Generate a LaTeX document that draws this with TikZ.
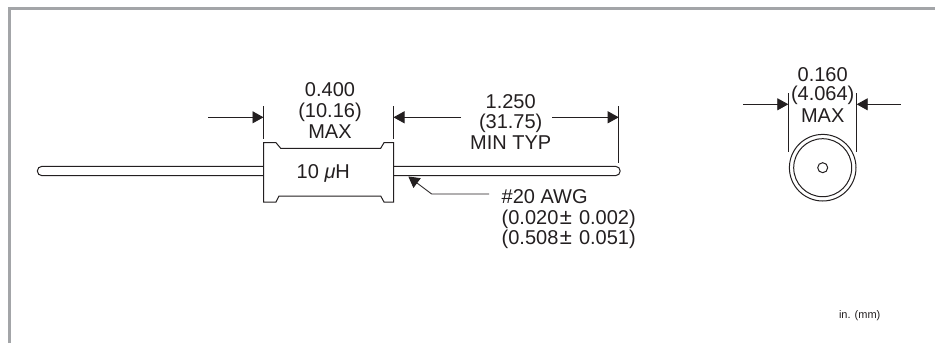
\documentclass[tikz,border=0pt]{standalone}
\usepackage{fontspec}
\setmainfont{Liberation Sans}
\usetikzlibrary{arrows.meta}
\definecolor{ink}{HTML}{231F20}
\definecolor{frame}{HTML}{A3A5A8}
\tikzset{
  line/.style={draw=ink,line width=1pt},
  thin ext/.style={draw=ink,line width=0.85pt},
  dim/.style={draw=ink,line width=0.85pt,-{Triangle[length=11pt,width=12pt]}},
  lbl/.style={anchor=base,inner sep=0pt,outer sep=0pt,text=ink,font=\fontsize{20}{20}\selectfont},
  lblw/.style={lbl,anchor=base west},
}
\newcommand{\plusminus}{\hspace{1.5pt}\smash{\fontsize{22}{20}\selectfont ±}\hspace{1.5pt}}
\begin{document}
\begin{tikzpicture}[x=1pt,y=-1pt]
\useasboundingbox (0,0) rectangle (935,343);
\fill[white] (0,0) rectangle (935,343);
% frame
\draw[frame,line width=3pt] (9.5,343) -- (9.5,8.5) -- (935,8.5);
% leads
\draw[line] (263.5,166.3) -- (42,166.3) arc[start angle=270,end angle=90,radius=4.7] -- (263.5,175.7);
\draw[line] (393.5,166.3) -- (615.5,166.3) arc[start angle=-90,end angle=90,radius=4.7] -- (393.5,175.7);
% body
\draw[line] (263.5,142.7) -- (276,142.7) -- (280.7,148.3) -- (380.7,148.3) -- (384,142.7) -- (393.5,142.7)
  -- (393.5,202) -- (384,202) -- (380.7,196) -- (279,196) -- (276,202) -- (263.5,202) -- cycle;
% extension lines
\draw[thin ext] (263.5,106) -- (263.5,139);
\draw[thin ext] (393.5,106) -- (393.5,139);
\draw[thin ext] (618.7,106) -- (618.7,162.7);
\draw[thin ext] (788.3,93) -- (788.3,151.7);
\draw[thin ext] (856.7,93) -- (856.7,151.7);
% end view
\coordinate (c) at (822.7,167.7);
\draw[line] (c) circle[radius=33.3];
\draw[line] (c) circle[radius=29];
\draw[line] (c) circle[radius=5];
% dimension coordinates
\coordinate (a1) at (208,117.3); \coordinate (a1t) at (263.5,117.3);
\coordinate (a2) at (461,117.3); \coordinate (a2t) at (393.5,117.3);
\coordinate (a3) at (552,117.3); \coordinate (a3t) at (618.7,117.3);
\coordinate (a4) at (743,104.3); \coordinate (a4t) at (788.3,104.3);
\coordinate (a5) at (900.7,104.3); \coordinate (a5t) at (856.7,104.3);
\draw[dim] (a1) -- (a1t);
\draw[dim] (a2) -- (a2t);
\draw[dim] (a3) -- (a3t);
\draw[dim] (a4) -- (a4t);
\draw[dim] (a5) -- (a5t);
% leader
\coordinate (l0) at (489,194); \coordinate (l1) at (431.7,194); \coordinate (l2) at (408.3,176.5);
\draw[dim] (l0) -- (l1) -- (l2);
% labels
\node[lbl] (t1) at (330,96.7) {0.400};
\node[lbl] (t2) at (330,117) {(10.16)};
\node[lbl] (t3) at (330,138.3) {MAX};
\node[lblw] (t4) at (296.7,178) {10 \textit{μ}H};
\node[lbl] (t5) at (510.7,108) {1.250};
\node[lbl] (t6) at (510.7,128) {(31.75)};
\node[lbl] (t7) at (510.7,149) {MIN TYP};
\node[lblw] (t8) at (501.7,203.3) {\#20 AWG};
\node[lblw] (t9) at (501.7,224) {(0.020\plusminus{} 0.002)};
\node[lblw] (t10) at (501.7,244) {(0.508\plusminus{} 0.051)};
\node[lbl] (t11) at (822.7,81.7) {0.160};
\node[lbl] (t12) at (822.7,100.7) {(4.064)};
\node[lbl] (t13) at (822.7,122.3) {MAX};
\node[lblw,font=\fontsize{11}{12}\selectfont] (t14) at (839,318) {in. (mm)};
\end{tikzpicture}
\end{document}
